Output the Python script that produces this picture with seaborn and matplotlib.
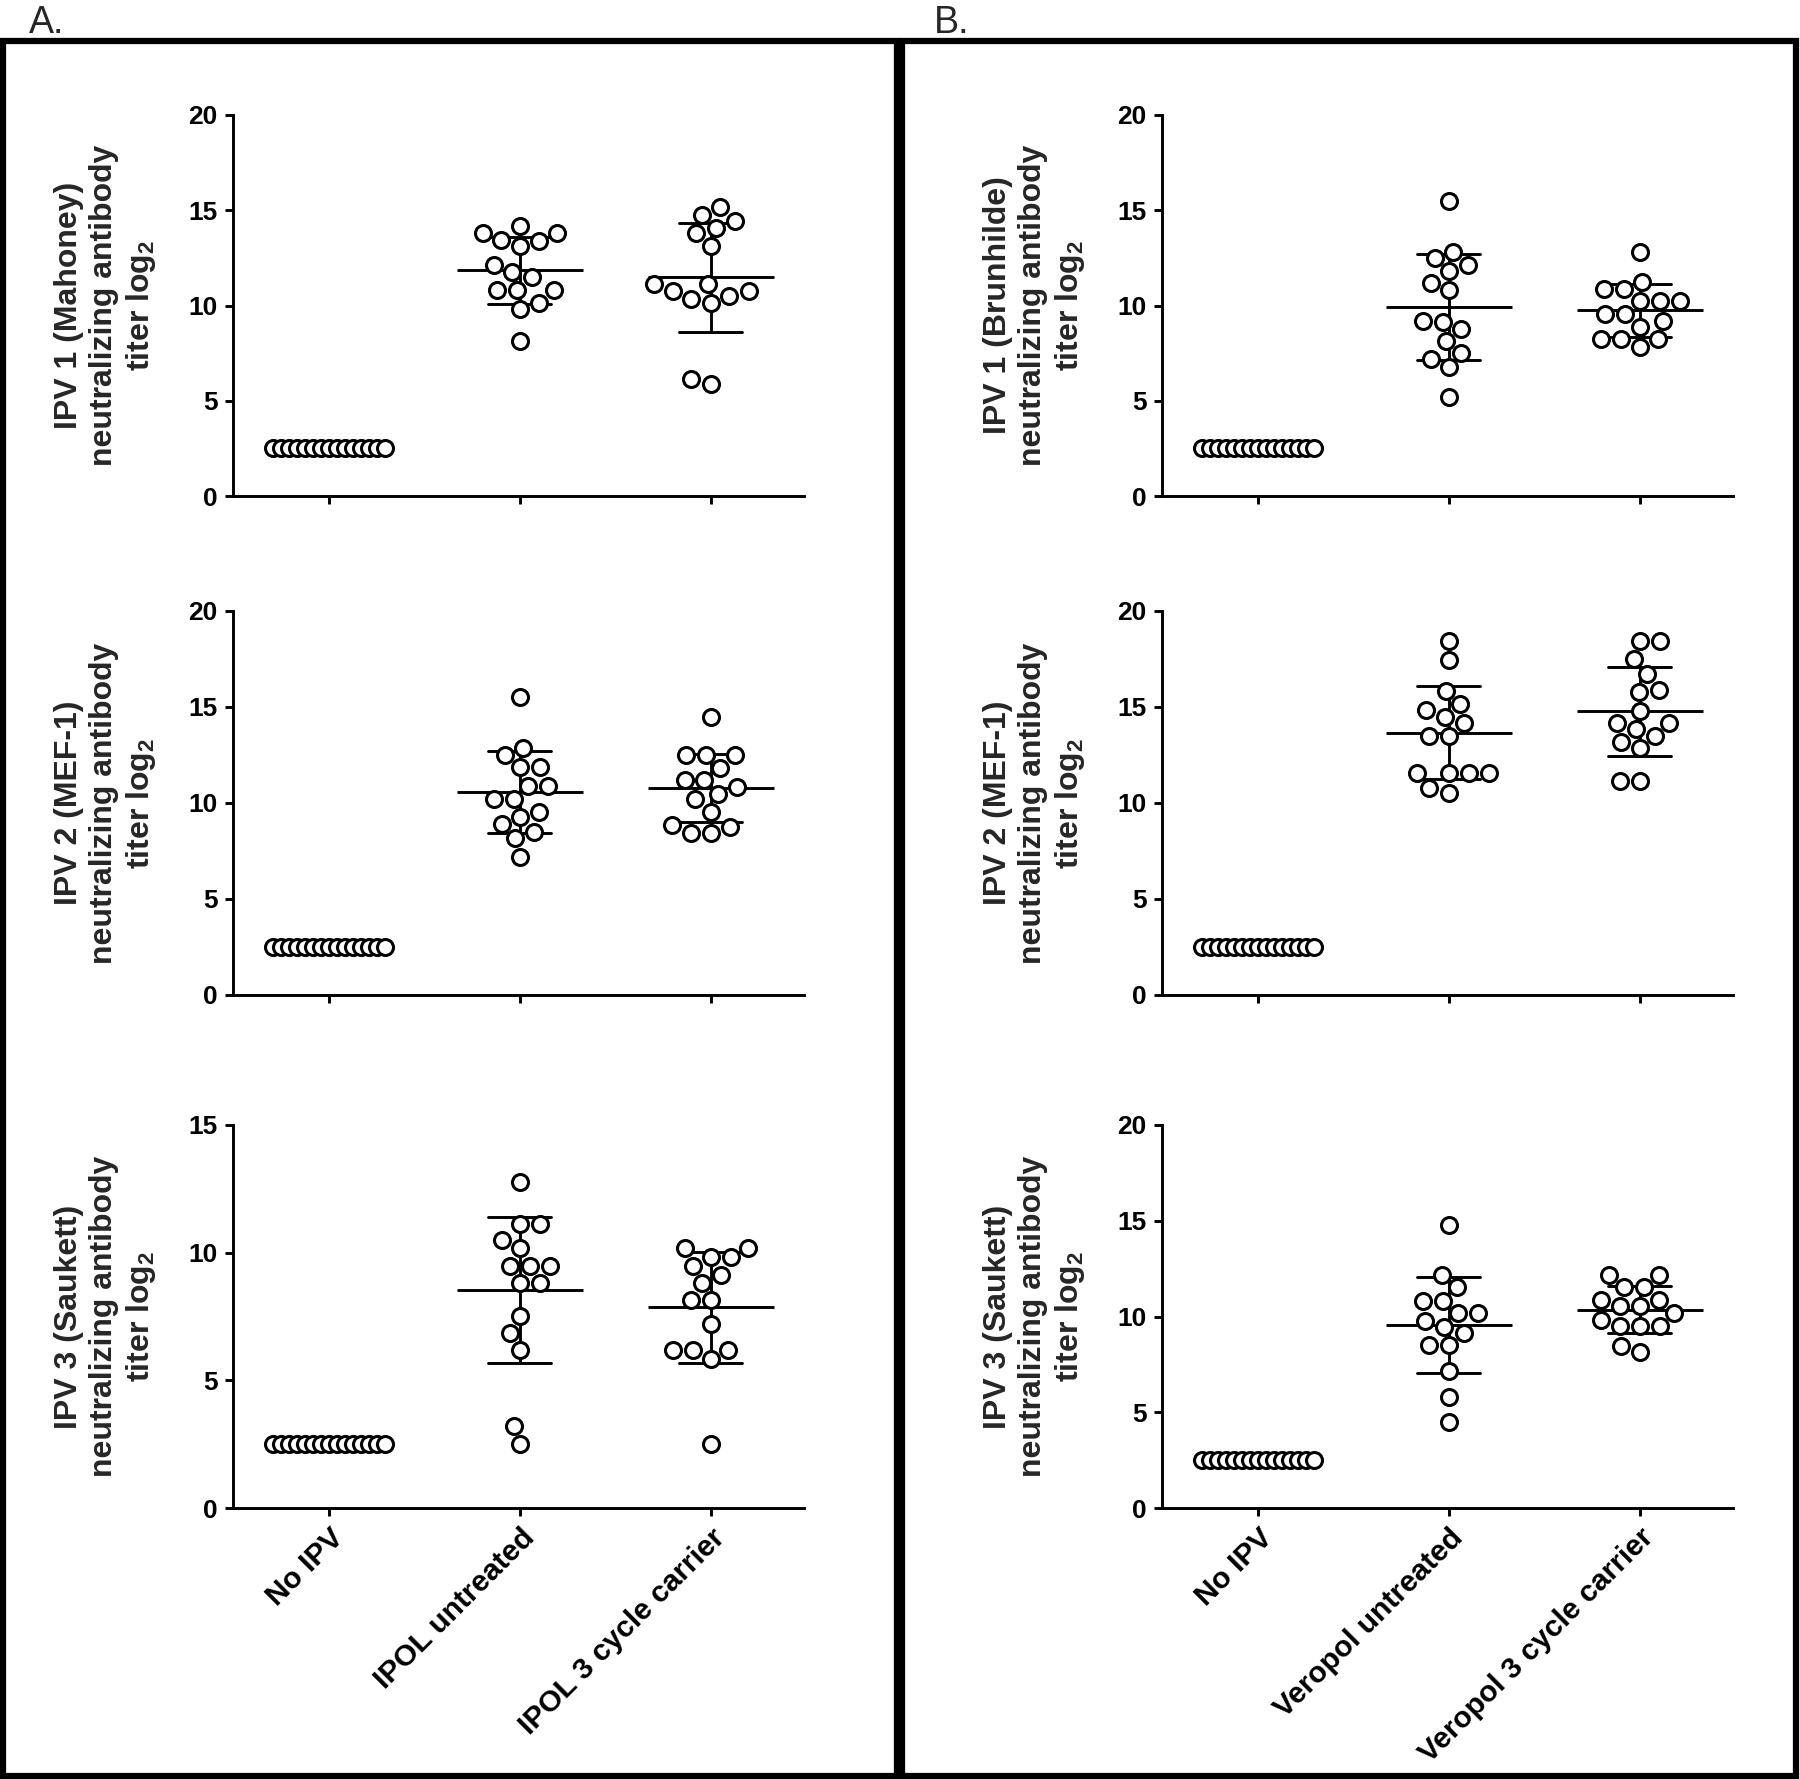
"""
Neutralizing antibody titers (log2) against IPV 1/2/3
A: IPOL groups, B: Veropol groups. Dot plots with mean +/- SD.
"""

import matplotlib
matplotlib.use("Agg")
import matplotlib.pyplot as plt
from matplotlib.patches import Rectangle
import pandas as pd
import seaborn as sns

# Group names
groups_a = ["No IPV", "IPOL untreated", "IPOL 3 cycle carrier"]
groups_b = ["No IPV", "Veropol untreated", "Veropol 3 cycle carrier"]

# No IPV animals: all below detection limit (same in every panel)
no_ipv = [2.5, 2.5, 2.5, 2.5, 2.5, 2.5, 2.5, 2.5, 2.5, 2.5, 2.5, 2.5, 2.5, 2.5, 2.5]

# Panel A (IPOL)
a1_untreated = [14.16, 13.81, 13.37, 13.11, 13.46, 13.78, 12.15, 11.49, 11.77, 10.79, 10.79, 10.79, 10.15, 9.80, 8.14]
a1_carrier = [14.77, 15.15, 14.42, 14.07, 13.81, 13.11, 11.14, 11.14, 10.76, 10.76, 10.32, 10.50, 10.15, 5.88, 6.14]
a2_untreated = [15.50, 12.85, 12.50, 11.86, 11.86, 10.89, 10.89, 10.19, 10.19, 9.55, 9.25, 8.91, 8.51, 8.16, 7.20]
a2_carrier = [14.50, 12.50, 12.50, 12.50, 11.81, 11.20, 11.20, 10.47, 10.82, 10.19, 9.55, 8.77, 8.46, 8.46, 8.85]
a3_untreated = [12.78, 11.12, 11.12, 10.50, 10.17, 9.48, 9.48, 9.48, 8.83, 8.83, 7.52, 6.84, 6.19, 3.21, 2.50]
a3_carrier = [10.17, 10.17, 9.82, 9.82, 9.48, 9.13, 8.83, 8.15, 8.15, 7.21, 6.19, 6.19, 6.19, 5.82, 2.50]

# Panel B (Veropol)
b1_untreated = [15.47, 12.82, 12.50, 12.15, 11.80, 11.19, 10.79, 9.19, 9.15, 8.75, 8.14, 7.53, 7.18, 6.75, 5.18]
b1_carrier = [12.82, 11.25, 10.85, 10.85, 10.25, 10.25, 10.25, 9.54, 9.54, 9.19, 8.86, 8.23, 8.23, 8.23, 7.84]
b2_untreated = [18.45, 17.45, 15.85, 15.16, 14.84, 14.50, 14.15, 13.49, 13.49, 11.55, 11.55, 11.55, 11.55, 10.76, 10.54]
b2_carrier = [18.45, 18.45, 17.48, 16.72, 15.80, 15.89, 14.81, 13.84, 14.18, 14.18, 13.49, 13.19, 12.85, 11.16, 11.16]
b3_untreated = [14.78, 12.17, 11.52, 10.83, 10.83, 10.17, 10.17, 9.78, 9.47, 9.16, 8.51, 8.51, 7.17, 5.81, 4.51]
b3_carrier = [12.17, 12.17, 11.52, 11.52, 10.86, 10.86, 10.55, 10.55, 10.20, 9.82, 9.50, 9.50, 9.50, 8.16, 8.46]

# Axis titles and y maxima
ylabels_a = ["IPV 1 (Mahoney)", "IPV 2 (MEF-1)", "IPV 3 (Saukett)"]
ylabels_b = ["IPV 1 (Brunhilde)", "IPV 2 (MEF-1)", "IPV 3 (Saukett)"]
ymax_a = [20, 20, 15]
ymax_b = [20, 20, 20]

sns.set_theme(style="ticks")
plt.rcParams["font.family"] = ["Liberation Sans", "DejaVu Sans"]
plt.rcParams["mathtext.fontset"] = "custom"
plt.rcParams["mathtext.rm"] = "Liberation Sans:bold"
plt.rcParams["mathtext.default"] = "rm"

W, H = 1800, 1779
fig = plt.figure(figsize=(W / 100, H / 100), dpi=100)

MARKER = 11.5
EDGE = 2.2


def add_axes_px(left, top, right, bottom):
    return fig.add_axes([left / W, 1 - bottom / H, (right - left) / W, (bottom - top) / H])


def draw_panel(ax, groups, untreated, carrier, title, ymax, bottom_row):
    # slots for the No IPV row: two empty slots on each side keep the row compact
    slots = [f"s{i:02d}" for i in range(len(no_ipv) + 4)]
    base = pd.DataFrame({"group": groups[0], "titer": no_ipv, "animal": slots[2:-2]})
    treated = pd.DataFrame({
        "group": [groups[1]] * len(untreated) + [groups[2]] * len(carrier),
        "titer": untreated + carrier,
    })

    sns.stripplot(data=base, x="group", y="titer", hue="animal", hue_order=slots,
                  order=groups, dodge=True, jitter=False, palette=["white"] * len(slots),
                  edgecolor="black", linewidth=EDGE, size=MARKER, legend=False, ax=ax)
    sns.swarmplot(data=treated, x="group", y="titer", order=groups, color="white",
                  edgecolor="black", linewidth=EDGE, size=MARKER, ax=ax)
    sns.pointplot(data=treated, x="group", y="titer", order=groups, errorbar="sd",
                  capsize=0.33, color="black", markers="_", linestyles="none",
                  markersize=91, markeredgewidth=2.1, err_kws={"linewidth": 2.1}, ax=ax)

    ax.set_xlim(-0.505, 2.49)
    ax.set_ylim(0, ymax)
    ax.set_yticks(range(0, ymax + 1, 5))
    ax.set_yticklabels([str(v) for v in range(0, ymax + 1, 5)], fontsize=19, fontweight="bold")
    ax.set_xticks([0, 1, 2])
    if bottom_row:
        ax.set_xticklabels(groups, rotation=45, ha="right", va="top",
                           rotation_mode="anchor", fontsize=21.5, fontweight="bold")
    else:
        ax.set_xticklabels([])
    ax.set_xlabel("")
    ax.set_ylabel(title + "\nneutralizing antibody\ntiter log$_2$", fontsize=23,
                  fontweight="bold", labelpad=22)

    sns.despine(ax=ax)
    for side in ["left", "bottom"]:
        ax.spines[side].set_linewidth(2.1)
        ax.spines[side].set_color("black")
    ax.tick_params(axis="both", direction="out", length=6, width=2.1, color="black",
                   labelcolor="black", pad=5)
    ax.set_facecolor("white")


# axes boxes in pixels: (top, bottom) for each row
rows_px = [(115, 496), (611, 995), (1125, 1508)]
data_a = [(a1_untreated, a1_carrier), (a2_untreated, a2_carrier), (a3_untreated, a3_carrier)]
data_b = [(b1_untreated, b1_carrier), (b2_untreated, b2_carrier), (b3_untreated, b3_carrier)]

for i, (top, bottom) in enumerate(rows_px):
    ax_a = add_axes_px(233, top, 804, bottom)
    draw_panel(ax_a, groups_a, data_a[i][0], data_a[i][1], ylabels_a[i], ymax_a[i], i == 2)
    ax_b = add_axes_px(1162, top, 1733, bottom)
    draw_panel(ax_b, groups_b, data_b[i][0], data_b[i][1], ylabels_b[i], ymax_b[i], i == 2)

# Panel frames and letters
for x0, x1 in [(3, 897), (902, 1796)]:
    fig.add_artist(Rectangle((x0 / W, 1 - 1776 / H), (x1 - x0) / W, (1776 - 41) / H,
                             transform=fig.transFigure, fill=False, edgecolor="black",
                             linewidth=4.5))
fig.text(29 / W, 1 - 33 / H, "A.", fontsize=27, ha="left", va="baseline")
fig.text(934 / W, 1 - 33 / H, "B.", fontsize=27, ha="left", va="baseline")

fig.savefig("out.png", dpi=100, facecolor="white")
print("saved out.png")
